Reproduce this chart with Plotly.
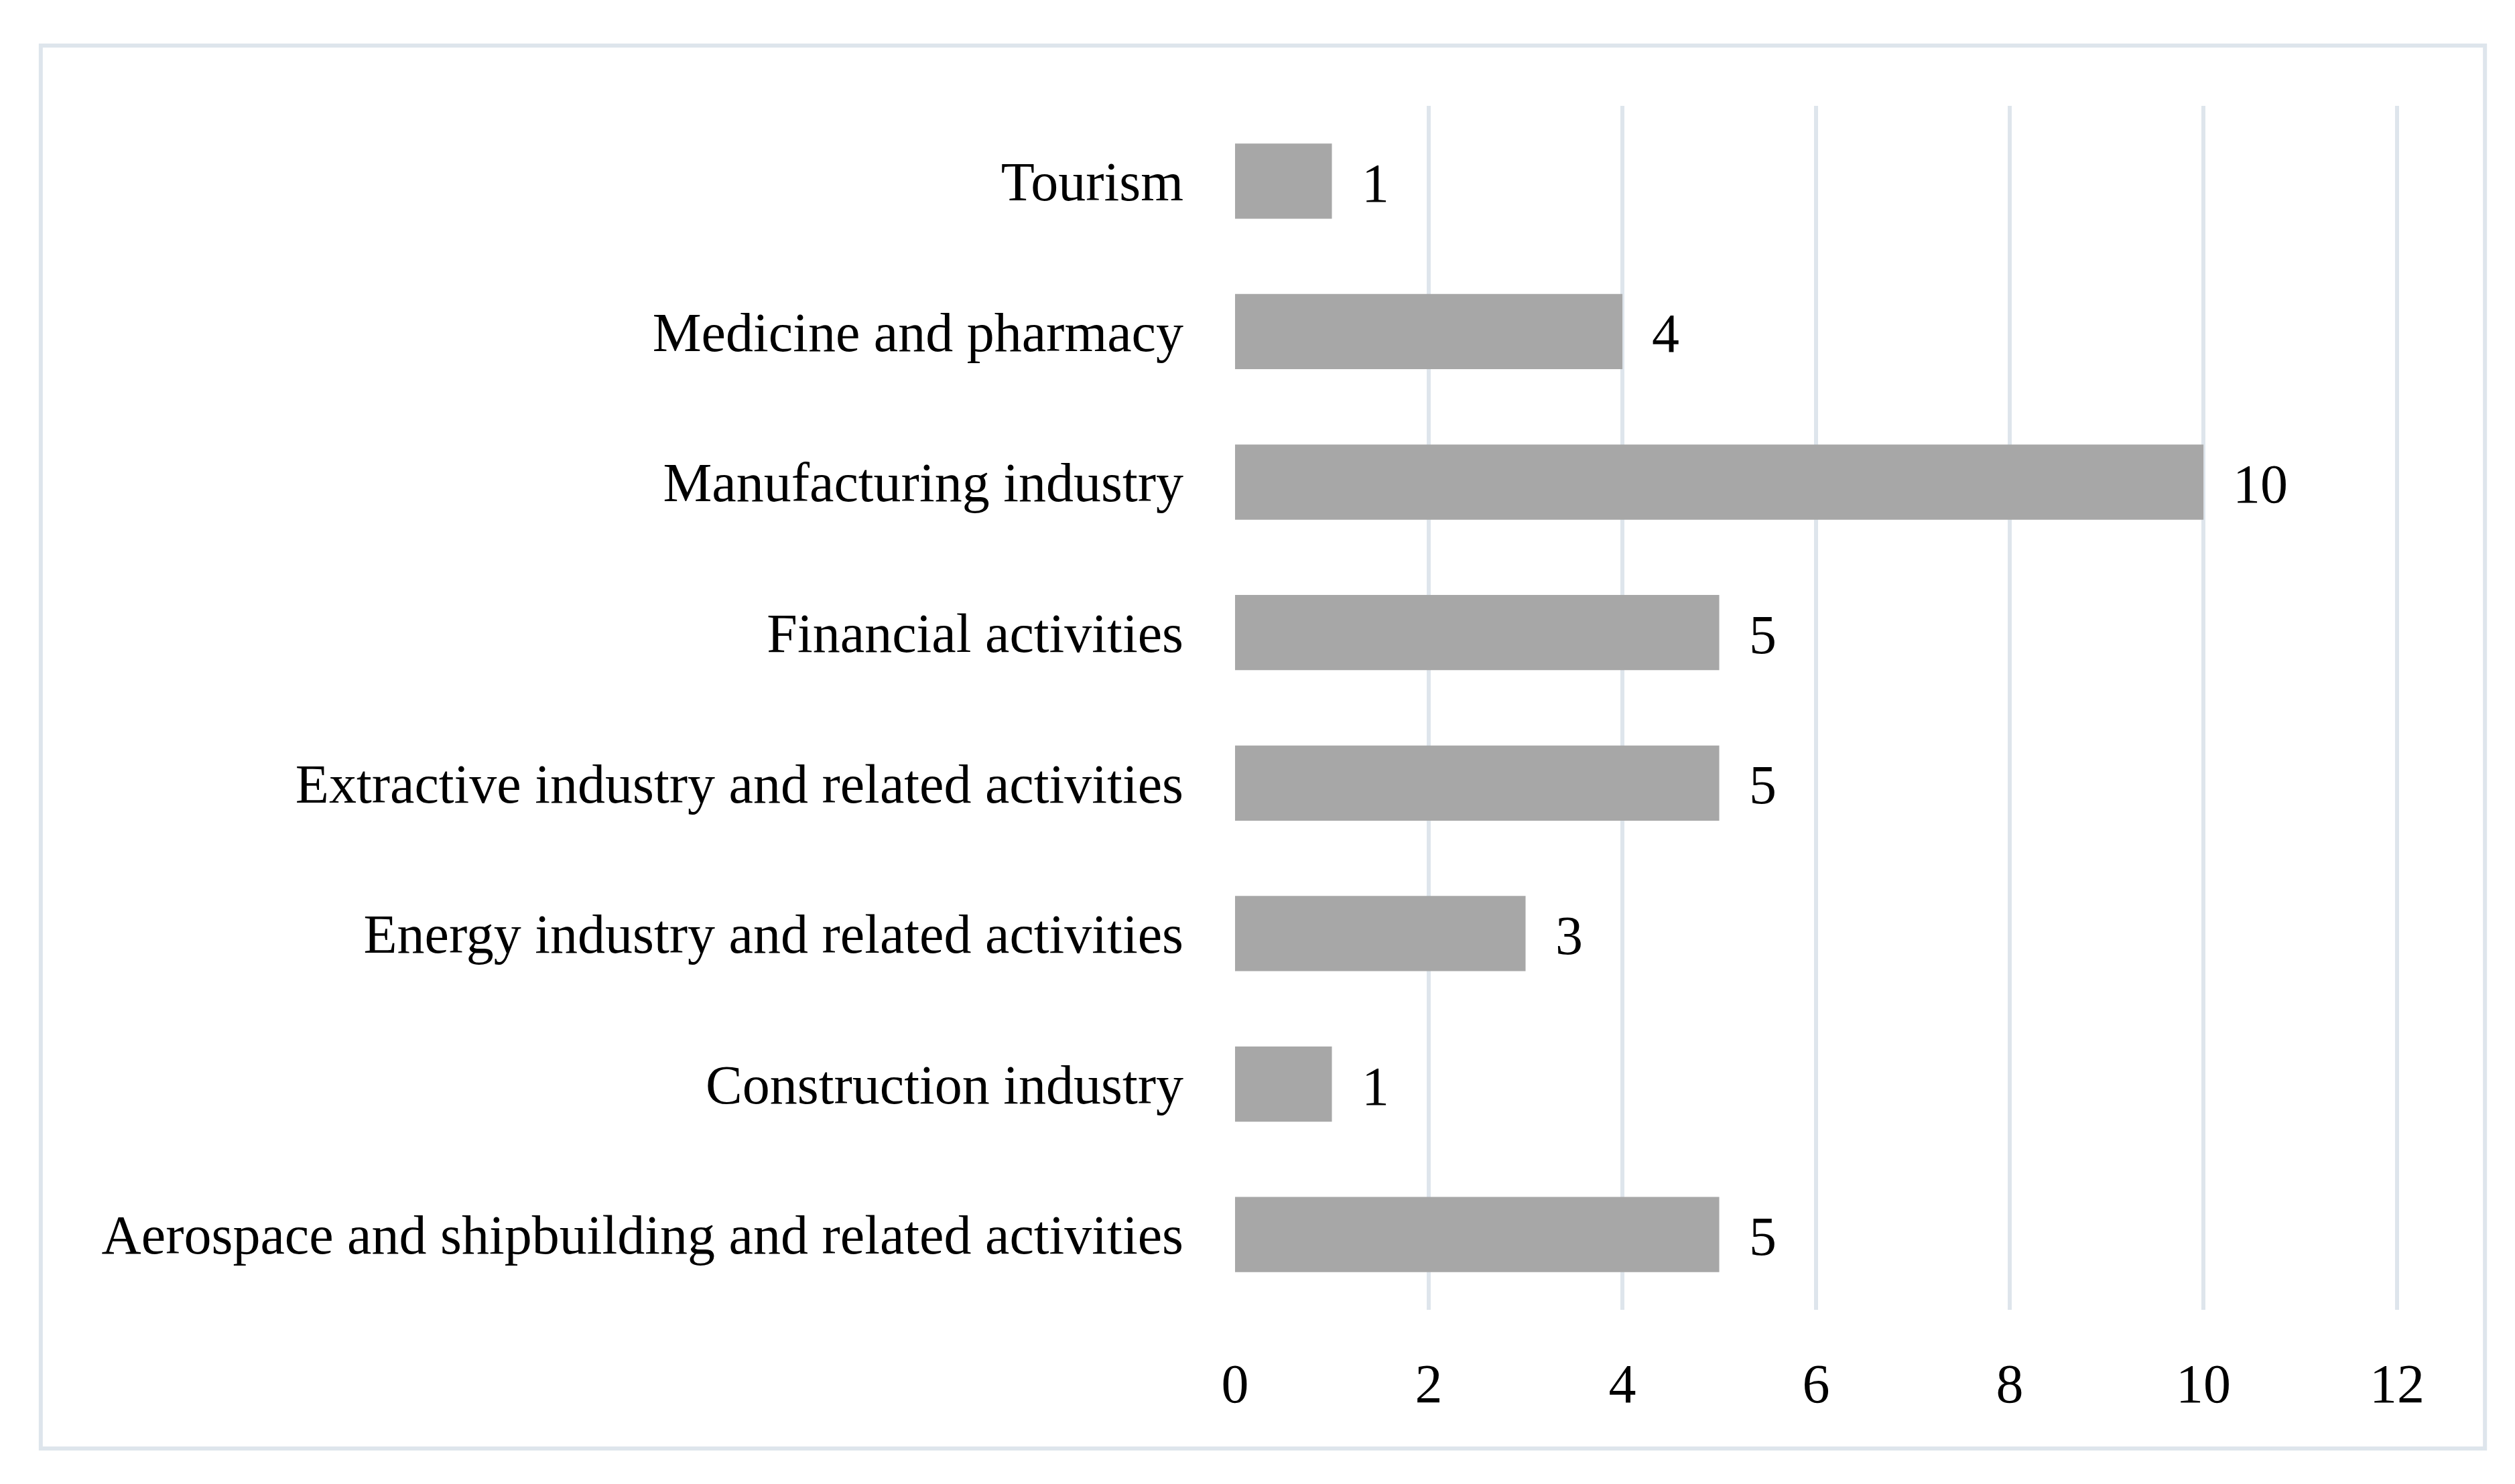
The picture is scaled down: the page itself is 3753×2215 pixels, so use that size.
import plotly.graph_objects as go

categories = [
    "Aerospace and shipbuilding and related activities",
    "Construction industry",
    "Energy industry and related activities",
    "Extractive industry and related activities",
    "Financial activities",
    "Manufacturing industry",
    "Medicine and pharmacy",
    "Tourism",
]
values = [5, 1, 3, 5, 5, 10, 4, 1]
tick_vals = [0, 2, 4, 6, 8, 10, 12]
tick_text = ["0", "2", "4", "6", "8", "10", "12"]

FONT = "Liberation Serif"
FS = 82

fig = go.Figure()
fig.add_trace(go.Bar(
    x=values, y=categories, orientation="h",
    marker=dict(color="#a7a7a7", line=dict(width=0)),
    showlegend=False, hoverinfo="skip",
))

for c, v in zip(categories, values):
    fig.add_annotation(x=v, y=c, text=str(v), showarrow=False,
                       xanchor="left", yanchor="middle", xshift=42, yshift=-3,
                       font=dict(family=FONT, size=FS, color="#000000"))

fig.add_shape(type="rect", xref="paper", yref="paper",
              x0=-1.026, x1=1.0738, y0=-0.1152, y1=1.0501,
              line=dict(color="#dee5ec", width=6), fillcolor="rgba(0,0,0,0)", layer="below")

fig.update_layout(
    width=3753, height=2215,
    margin=dict(l=1835, r=181, t=150, b=268, pad=0),
    paper_bgcolor="white", plot_bgcolor="white",
    bargap=0.5,
    font=dict(family=FONT, size=FS, color="#000000"),
    xaxis=dict(range=[0, 12.02], tickvals=tick_vals, ticktext=tick_text,
               showgrid=True, gridcolor="#dee5ec", gridwidth=6,
               zeroline=False, showline=False, ticks="",
               ticklabelstandoff=55,
               tickfont=dict(family=FONT, size=FS, color="#000000")),
    yaxis=dict(showgrid=False, zeroline=False, showline=False, ticks="",
               ticklabelstandoff=76,
               tickfont=dict(family=FONT, size=FS, color="#000000")),
)

fig.write_html("out.html")
